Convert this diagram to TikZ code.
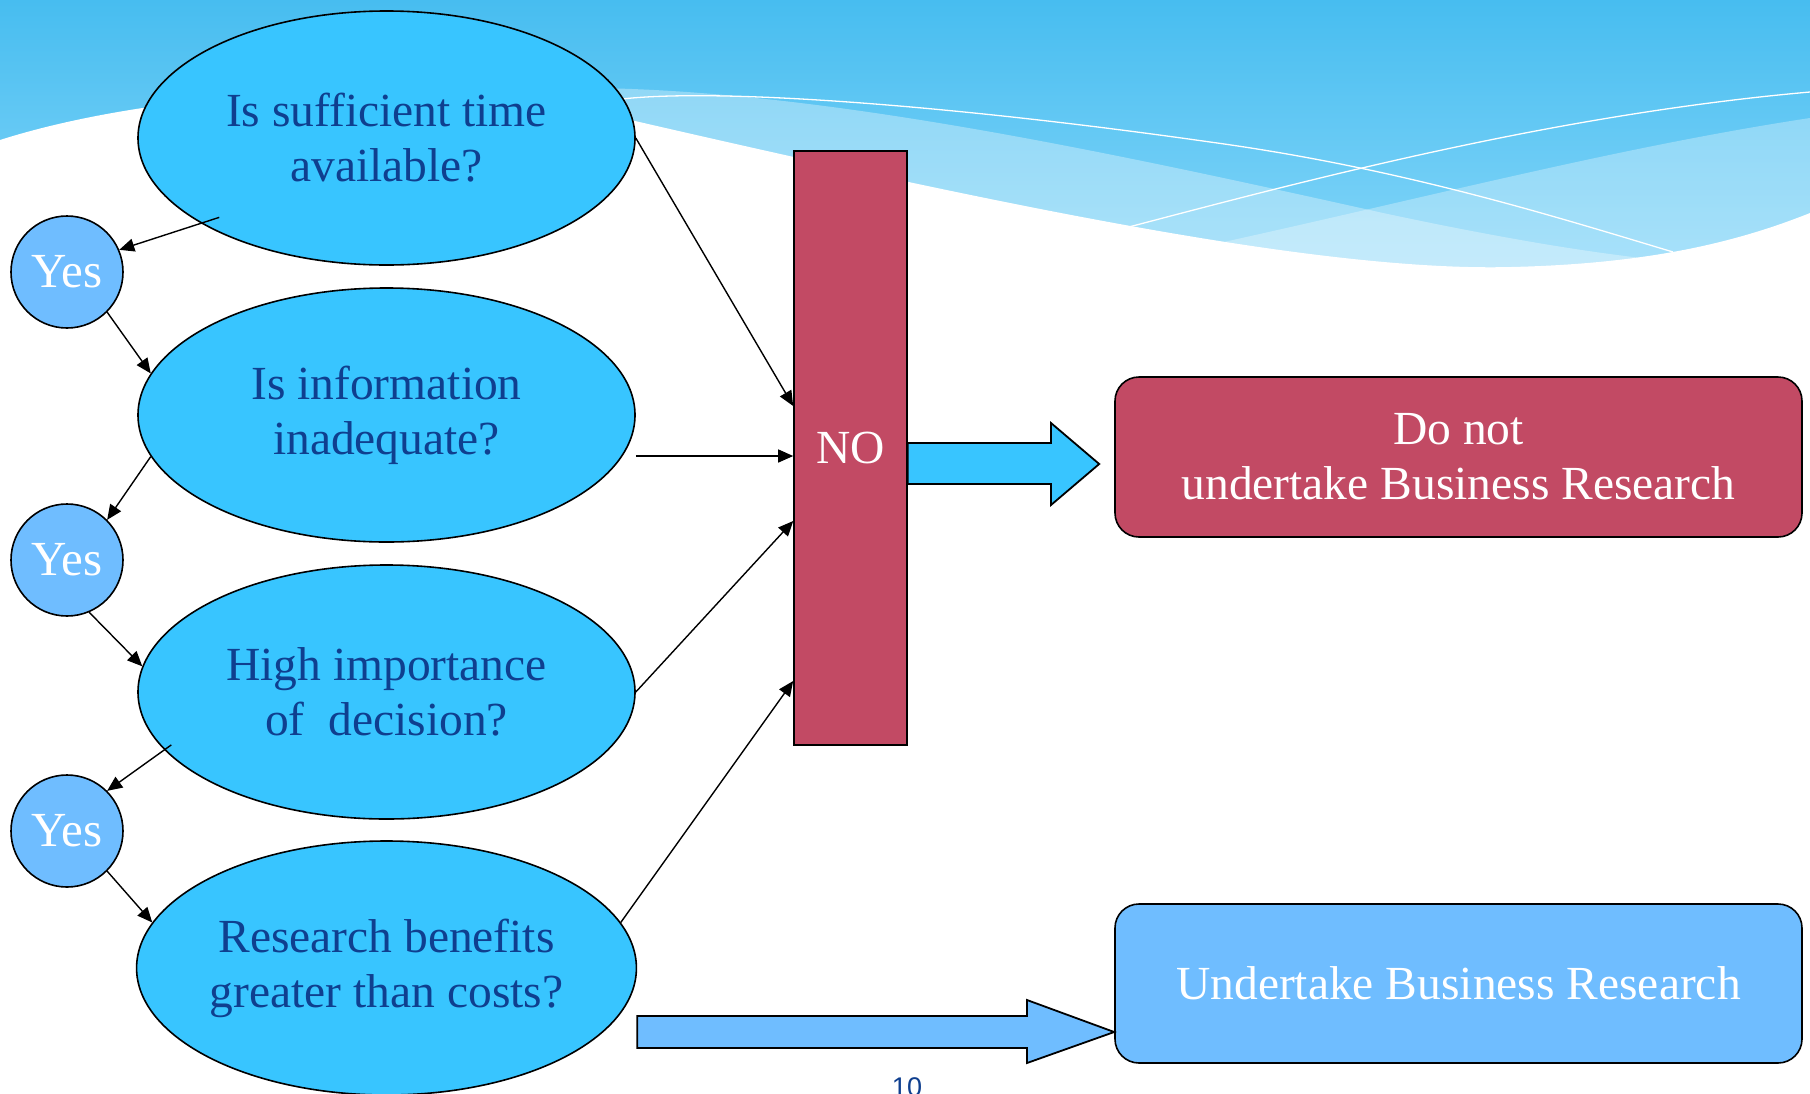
\documentclass[tikz,border=0pt]{standalone}
\usepackage{fontspec}
\setmainfont{Liberation Serif}
\newfontfamily\pgnumfont{Liberation Sans}
\usetikzlibrary{arrows.meta,calc,shapes.geometric}
\definecolor{qsky}{HTML}{38C5FF}
\definecolor{qyes}{HTML}{6FBDFF}
\definecolor{qno}{HTML}{C24A64}
\definecolor{qtxt}{HTML}{0F3F8F}
\definecolor{qtop}{HTML}{47BDF0}
\definecolor{qlow}{HTML}{88D7F9}

\begin{document}
\begin{tikzpicture}[x=1pt,y=-1pt,
  qell/.style={ellipse,draw,line width=1.6pt,fill=qsky,minimum width=497pt,minimum height=254pt,
    inner sep=0pt,align=center,text=qtxt,font=\fontsize{47.5}{55}\selectfont},
  qyesc/.style={circle,draw,line width=1.6pt,fill=qyes,minimum size=112pt,inner sep=0pt,
    text=white,font=\fontsize{49}{55}\selectfont},
  resbox/.style={rectangle,rounded corners=24pt,draw,line width=1.6pt,minimum width=687pt,
    minimum height=160pt,align=center,text=white,font=\fontsize{47.5}{55}\selectfont},
  conn/.style={-{Triangle[length=15pt,width=13pt]},line width=1.4pt},
  blockarr/.style={draw,line width=1.8pt,line join=miter}]
  \useasboundingbox (0,0) rectangle (1810,1093);
  % wave band at the top
  \shade[top color=qtop,bottom color=qlow] (0,0) rectangle (1810,290);
  \fill[white,opacity=0.33] (560,88) .. controls (800,85) and (1100,150) .. (1383,213)
    .. controls (1500,238) and (1600,255) .. (1680,262) -- (1680,300) -- (560,300) -- cycle;
  \fill[white,opacity=0.3] (1150,258) .. controls (1400,205) and (1600,150) .. (1810,118)
    -- (1810,300) -- (1150,300) -- cycle;
  \fill[white] (0,140) .. controls (150,92) and (420,70) .. (635,121)
    .. controls (1000,205) and (1320,272) .. (1511,267)
    .. controls (1640,264) and (1730,245) .. (1810,213) -- (1810,1093) -- (0,1093) -- cycle;
  \draw[white,line width=1.3pt] (622,99) .. controls (720,88) and (950,105) .. (1210,142)
    .. controls (1400,168) and (1550,215) .. (1673,252);
  \draw[white,line width=1.3pt] (1125,228) .. controls (1300,182) and (1550,115) .. (1810,92);

  % questions
  \node[qell] (q1) at (386.5,138) {Is sufficient time\\available?};
  \node[qell] (q2) at (386.5,415) {Is information\\inadequate?};
  \node[qell] (q3) at (386.5,692) {High importance\\of\ \ decision?};
  \node[qell] (q4) at (386.5,968) {Research benefits\\greater than costs?};
  \foreach \i/\yy in {1/272,2/560,3/831}{\node[qyesc] (y\i) at (67,\yy) {Yes};}

  \node[draw,line width=1.6pt,fill=qno,minimum width=113pt,minimum height=594pt,inner sep=0pt,
    text=white,font=\fontsize{47.5}{55}\selectfont] (no) at (850.5,448) {NO};
  \node[resbox,fill=qno] (dont) at (1458.5,457) {Do not\\undertake Business Research};
  \node[resbox,fill=qyes,minimum height=159pt] (undo) at (1458.5,983.5) {Undertake Business Research};
  \node[font=\pgnumfont\fontsize{27}{30}\selectfont,text=qtxt,anchor=base] (pg) at (907,1096) {10};

  % yes chain
  \draw[conn] ($(q1.south west)+(9,-11)$) -- (y1.23);
  \draw[conn] (y1.south east) -- (q2.170);
  \draw[conn] (q2.190) -- (y2.north east);
  \draw[conn] (y2.-67) -- (q3.174);
  \draw[conn] ($(q3.194)+(9,-3)$) -- (y3.north east);
  \draw[conn] (y3.south east) -- (q4.169);

  % no answers
  \draw[conn] (q1.east) -- ($(no.west)+(0,-42)$);
  \draw[conn] ($(q2.east)+(0,41)$) coordinate (q2o) -- (q2o -| no.west);
  \draw[conn] (q3.east) -- ($(no.west)+(0,73)$);
  \draw[conn] (q4.11) -- ($(no.west)+(0,233)$);

  % block arrows
  \coordinate (notip) at ($(dont.west)+(-15,7)$);
  \draw[blockarr,fill=qsky] ($(no.east)+(0,-5)$) -- (1051,443) -- (1051,423) -- (notip)
    -- (1051,505) -- (1051,484) -- ($(no.east)+(0,36)$) -- cycle;
  \coordinate (untip) at ($(undo.west)+(0,48.5)$);
  \draw[blockarr,fill=qyes] ($(q4.east)+(0,48)$) -- (1027,1016) -- (1027,1000) -- (untip)
    -- (1027,1063) -- (1027,1048) -- ($(q4.east)+(0,80)$) -- cycle;
\end{tikzpicture}
\end{document}
